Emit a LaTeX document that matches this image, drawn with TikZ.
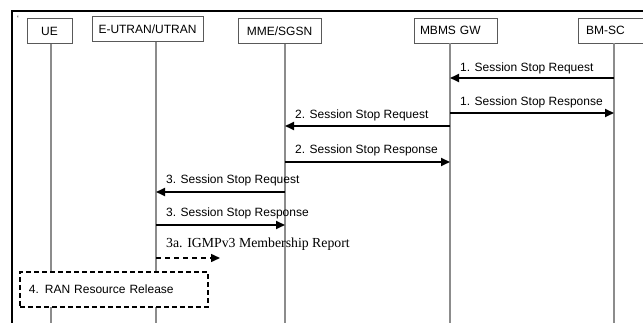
\documentclass[tikz,border=0pt]{standalone}
\usepackage{fontspec}
\setmainfont{Liberation Sans}
\newfontfamily\serifa{Liberation Serif}
\usetikzlibrary{arrows.meta}
\begin{document}
\begin{tikzpicture}[x=1pt,y=-1pt,
  ent/.style={draw=black!65, line width=0.8pt, fill=white, minimum height=25pt, inner sep=0pt, font=\fontsize{12}{14}\selectfont},
  life/.style={draw=black!45, line width=1.2pt},
  msg/.style={draw=black, line width=1.8pt, -{Triangle[length=9pt,width=8pt]}},
  lbl/.style={anchor=base west, inner sep=0pt, font=\fontsize{12}{14}\selectfont},
  lbls/.style={anchor=base west, inner sep=0pt, font=\serifa\fontsize{13.8}{15}\selectfont}]
\useasboundingbox (0,0) rectangle (643,323);
\draw[line width=2pt] (644,11) -- (12,11) -- (12,324);
\node[inner sep=0pt, font=\fontsize{8}{8}\selectfont] (tick) at (18,19) {`};
% entities
\node[ent, minimum width=45pt] (ue) at (49.5,31) {UE};
\node[ent, minimum width=111pt] (ran) at (147.5,29) {E-UTRAN/UTRAN};
\node[ent, minimum width=83pt] (mme) at (279.5,31) {MME/SGSN};
\node[ent, text width=71pt, align=left, inner xsep=6pt] (gw) at (455.5,30.5) {MBMS GW};
\node[ent, text width=64pt, align=left, inner xsep=8pt] (bmsc) at (618,30.5) {BM-SC};
% lifeline ends
\coordinate (ueB) at (51,324);
\coordinate (ranB) at (156,324);
\coordinate (mmeB) at (285,324);
\coordinate (gwB) at (450,324);
\coordinate (bmscB) at (614,324);
\draw[life] (ue.south -| ueB) -- (ueB);
\draw[life] (ran.south -| ranB) -- (ranB);
\draw[life] (mme.south -| mmeB) -- (mmeB);
\draw[life] (gw.south -| gwB) -- (gwB);
\draw[life] (bmsc.south -| bmscB) -- (bmscB);
% messages
\draw[msg] (bmscB |- 0,78) -- (gwB |- 0,78);
\node[lbl] (t1) at (460,72) {1. Session Stop Request};
\draw[msg] (gwB |- 0,113) -- (bmscB |- 0,113);
\node[lbl] (t2) at (460,106) {1. Session Stop Response};
\draw[msg] (gwB |- 0,126) -- (mmeB |- 0,126);
\node[lbl] (t3) at (295,119) {2. Session Stop Request};
\draw[msg] (mmeB |- 0,162) -- (gwB |- 0,162);
\node[lbl] (t4) at (295,154) {2. Session Stop Response};
\draw[msg] (mmeB |- 0,192) -- (ranB |- 0,192);
\node[lbl] (t5) at (166,184) {3. Session Stop Request};
\draw[msg] (ranB |- 0,225) -- (mmeB |- 0,225);
\node[lbl] (t6) at (166,217) {3. Session Stop Response};
\coordinate (c3a) at (220,258);
\draw[line width=1.5pt, dash pattern=on 5pt off 4pt, -{Triangle[length=9pt,width=8pt]}] (ranB |- c3a) -- (c3a);
\node[lbls] (t7) at (166,248) {3a. IGMPv3 Membership Report};
% RAN resource release
\node[draw=black, line width=1.8pt, dash pattern=on 5pt off 3pt, fill=white, minimum width=188pt, minimum height=35pt,
  text width=170pt, inner xsep=9pt, align=left, anchor=north west, font=\fontsize{12}{14}\selectfont] (rr) at (19,271) {4. RAN Resource Release};
\end{tikzpicture}
\end{document}
